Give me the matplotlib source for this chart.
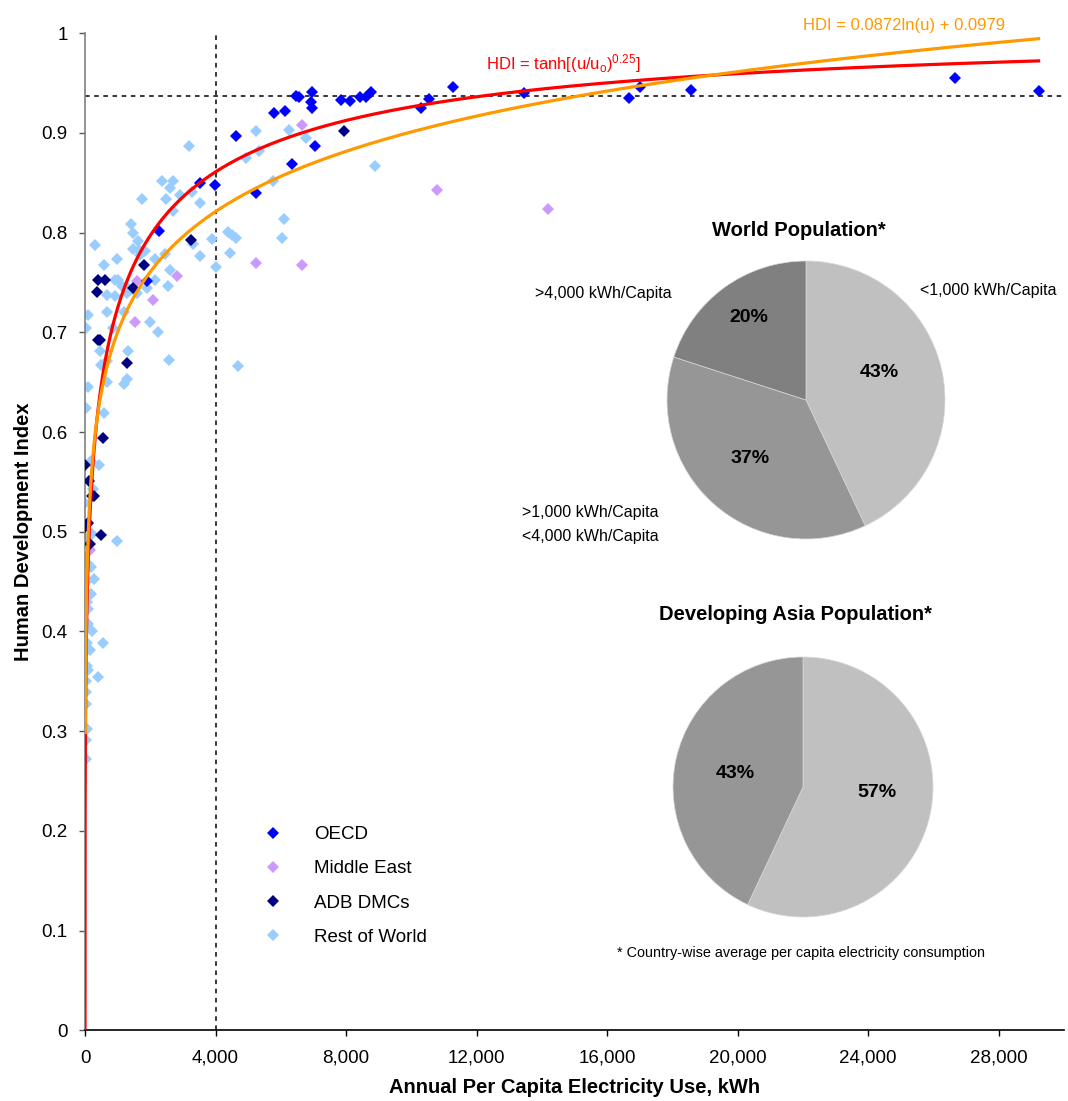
import matplotlib
matplotlib.use("Agg")
import matplotlib.pyplot as plt
import numpy as np

plt.rcParams['font.family'] = ['Liberation Sans', 'DejaVu Sans']
plt.rcParams['mathtext.fontset'] = 'custom'
plt.rcParams['mathtext.rm'] = 'Liberation Sans'
plt.rcParams['mathtext.it'] = 'Liberation Sans'

# per capita electricity use (kWh) and HDI, by country group
oecd_kwh = [3525, 3985, 4640, 2258, 5232, 5803, 6130, 6354, 6480, 6560, 6968, 6918, 6968,
            7060, 7836, 8122, 8430, 8600, 8766, 10308, 10553, 11289, 13466, 16664, 17011,
            18565, 26645, 29220, 1890]
oecd_hdi = [0.850, 0.848, 0.897, 0.802, 0.840, 0.920, 0.922, 0.869, 0.937, 0.936, 0.941, 0.931, 0.925,
            0.887, 0.933, 0.932, 0.936, 0.936, 0.941, 0.925, 0.934, 0.946, 0.940, 0.935, 0.946,
            0.943, 0.955, 0.942, 0.752]

me_kwh = [6660, 5232, 6641, 2810, 2074, 1543, 1584, 10799, 14200, 153]
me_hdi = [0.908, 0.770, 0.768, 0.757, 0.732, 0.710, 0.752, 0.843, 0.824, 0.482]

adb_kwh = [7948, 3240, 1818, 1480, 408, 622, 377, 389, 460, 1297, 562, 10, 133, 205, 276,
           50, 10, 100, 480, 153]
adb_hdi = [0.902, 0.793, 0.768, 0.745, 0.753, 0.753, 0.740, 0.692, 0.692, 0.669, 0.594, 0.567,
           0.551, 0.536, 0.536, 0.508, 0.505, 0.509, 0.497, 0.488]

row_kwh = [3188, 5232, 5324, 4944, 6262, 6773, 8888,
           2370, 2707, 2605, 2912, 3270, 3525, 2473, 1737, 2707,
           3893, 4006, 4393, 4515, 4618, 4444, 3525, 3320,
           5753, 6099, 6048,
           1400, 1462, 1634, 1480, 1665, 1848, 1686, 2146, 2452, 2605, 2554, 2146, 1890, 1584,
           1277, 1328, 1124, 920, 1022, 991, 317, 582, 684, 920, 868, 664, 1195, 82, 30, 1992,
           2247, 1318, 460, 2575,
           480, 664, 684, 1195, 1297, 82, 30, 582, 4680,
           174, 439, 255, 10,
           970, 10, 205, 70, 174, 276, 50, 10, 174, 70, 100, 100, 205, 562, 70, 10, 153, 50,
           100, 389, 20, 30, 30, 50, 30, 30]
row_hdi = [0.887, 0.902, 0.882, 0.875, 0.903, 0.895, 0.867,
           0.852, 0.852, 0.845, 0.838, 0.841, 0.830, 0.834, 0.834, 0.822,
           0.794, 0.766, 0.801, 0.798, 0.795, 0.780, 0.777, 0.789,
           0.852, 0.814, 0.795,
           0.809, 0.800, 0.792, 0.784, 0.783, 0.782, 0.778, 0.774, 0.779, 0.763, 0.747, 0.753,
           0.745, 0.739, 0.739, 0.745, 0.747, 0.753, 0.753, 0.774, 0.788, 0.768, 0.737, 0.736,
           0.704, 0.720, 0.720, 0.717, 0.704, 0.710, 0.700, 0.681, 0.681, 0.672,
           0.667, 0.671, 0.650, 0.648, 0.653, 0.645, 0.624, 0.619, 0.666,
           0.571, 0.567, 0.543, 0.529,
           0.491, 0.494, 0.498, 0.469, 0.465, 0.453, 0.451, 0.439, 0.438, 0.430, 0.423, 0.408,
           0.400, 0.388, 0.388, 0.379, 0.381, 0.365, 0.361, 0.354, 0.350, 0.339, 0.327, 0.302,
           0.291, 0.272]

# fitted curves
u0 = 1413.0
log_a, log_b = 0.0872, 0.0979
fit_max = 29220

# reference lines
hdi_line = 0.937
kwh_line = 4000

# pie charts
world_labels = ['<1,000 kWh/Capita', '>1,000 kWh/Capita', '<4,000 kWh/Capita', '>4,000 kWh/Capita']
world_share = [43, 37, 20]
asia_share = [57, 43]

xticks = np.arange(0, 28001, 4000)
yticks = np.arange(0, 1.01, 0.1)

fig = plt.figure(figsize=(10.68, 11.01), dpi=100)
ax = fig.add_axes([0.0796, 0.0642, 0.9167, 0.9056])

ax.axhline(hdi_line, color='k', ls=(0, (3, 3)), lw=1.1, zorder=1)
ax.axvline(kwh_line, color='k', ls=(0, (3, 3)), lw=1.1, zorder=1)

ms = 6.6
ax.plot(oecd_kwh, oecd_hdi, 'D', ms=ms, mew=0, color='#0000FF', label='OECD', zorder=4)
ax.plot(me_kwh, me_hdi, 'D', ms=ms, mew=0, color='#CC99FF', label='Middle East', zorder=3)
ax.plot(adb_kwh, adb_hdi, 'D', ms=ms, mew=0, color='#000080', label='ADB DMCs', zorder=3)
ax.plot(row_kwh, row_hdi, 'D', ms=ms, mew=0, color='#99CCFF', label='Rest of World', zorder=2)

u = np.concatenate([[0], np.geomspace(0.01, fit_max, 3000)])
ax.plot(u, np.tanh((u / u0) ** 0.25), color='#FF0000', lw=2.3, zorder=5)
u2 = np.geomspace(10, fit_max, 3000)
ax.plot(u2, log_a * np.log(u2) + log_b, color='#FF9900', lw=2.3, zorder=6)

ax.text(12300, 0.964, r'HDI = tanh[(u/u$_{\rm o}$)$^{0.25}$]', color='#FF0000', fontsize=12)
ax.text(22000, 1.0035, 'HDI = 0.0872ln(u) + 0.0979', color='#FF9900', fontsize=12)

ax.set_xlim(0, 30000)
ax.set_ylim(0, 1)
ax.set_xticks(xticks)
ax.set_xticklabels(['{:,}'.format(int(v)) for v in xticks])
ax.set_yticks(yticks)
ax.set_yticklabels(['0'] + ['{:.1f}'.format(v) for v in yticks[1:-1]] + ['1'])
ax.tick_params(axis='both', direction='out', length=4.5, width=1, labelsize=13.5)
ax.tick_params(axis='y', pad=8, color='#555555')
ax.tick_params(axis='x', pad=9.5)

for side in ['top', 'right']:
    ax.spines[side].set_visible(False)
ax.spines['left'].set_color('#808080')
ax.spines['left'].set_linewidth(1.2)
ax.spines['bottom'].set_linewidth(1.2)

ax.set_xlabel('Annual Per Capita Electricity Use, kWh', fontsize=14.5, fontweight='bold', labelpad=8)
ax.set_ylabel('Human Development Index', fontsize=14.5, fontweight='bold', labelpad=6)

leg = ax.legend(loc='upper left', bbox_to_anchor=(263.6 / 1068, 1 - 826 / 1101),
                bbox_transform=fig.transFigure, frameon=False, fontsize=13.5, numpoints=1,
                markerscale=0.9, handlelength=1.0, handletextpad=1.69, labelspacing=0.91,
                borderpad=0, borderaxespad=0)

# pie of world population
axw = fig.add_axes([667 / 1068, 1 - 539 / 1101, 278 / 1068, 278 / 1101])
axw.pie(world_share, colors=['#C0C0C0', '#969696', '#808080'], startangle=90,
        counterclock=False, wedgeprops=dict(linewidth=0.5, edgecolor='#D8D8D8'))
axw.set_xlim(-1, 1)
axw.set_ylim(-1, 1)
world_pos = [(0.53, 0.20), (-0.40, -0.42), (-0.41, 0.59)]
for share, pos in zip(world_share, world_pos):
    axw.text(pos[0], pos[1], '%d%%' % share, ha='center', va='center', fontsize=14,
             fontweight='bold')

# pie of developing Asia population
axa = fig.add_axes([673 / 1068, 1 - 917 / 1101, 260 / 1068, 260 / 1101])
axa.pie(asia_share, colors=['#C0C0C0', '#969696'], startangle=90, counterclock=False,
        wedgeprops=dict(linewidth=0.5, edgecolor='#D8D8D8'))
axa.set_xlim(-1, 1)
axa.set_ylim(-1, 1)
asia_pos = [(0.57, -0.04), (-0.52, 0.10)]
for share, pos in zip(asia_share, asia_pos):
    axa.text(pos[0], pos[1], '%d%%' % share, ha='center', va='center', fontsize=14,
             fontweight='bold')

def figtext(x, y, s, **kw):
    fig.text(x / 1068, 1 - y / 1101, s, **kw)

figtext(799, 230, 'World Population*', ha='center', va='center', fontsize=14.5, fontweight='bold')
figtext(795, 615, 'Developing Asia Population*', ha='center', va='center', fontsize=14.5,
        fontweight='bold')
figtext(920, 290, world_labels[0], ha='left', va='center', fontsize=11.5)
figtext(522, 512.7, world_labels[1], ha='left', va='center', fontsize=11.5)
figtext(522, 536, world_labels[2], ha='left', va='center', fontsize=11.5)
figtext(535, 294, world_labels[3], ha='left', va='center', fontsize=11.5)
figtext(617, 953, '* Country-wise average per capita electricity consumption', ha='left',
        va='center', fontsize=10.4)

fig.savefig('out.png', dpi=100)
